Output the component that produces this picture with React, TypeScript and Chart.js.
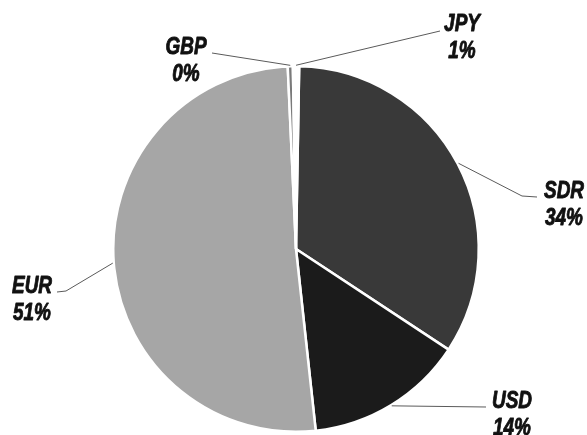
import React, { useEffect, useRef } from "react";
import { Chart, ArcElement, PieController } from "chart.js";

Chart.register(ArcElement, PieController);

const categories = ["SDR", "USD", "EUR", "GBP", "JPY"];
const shares = [34, 14, 51, 0.45, 0.55];
const sliceColors = ["#393939", "#1b1b1b", "#a6a6a6", "#7a7a7a", "#ffffff"];

// label placement (text centre x, first baseline y, leader end, optional elbow)
const labelLayout = [
  { x: 564, y: 198, end: [537, 197], elbow: [522, 196] },
  { x: 512, y: 408, end: [486, 407], elbow: null },
  { x: 32, y: 293, end: [57, 292], elbow: [66, 291] },
  { x: 186, y: 54, end: [212, 53], elbow: null },
  { x: 462, y: 31, end: [440, 31], elbow: null },
];

const labelFont = "italic bold 24px 'Liberation Sans', Arial, sans-serif";
const narrow = 0.79;

const labelPlugin = {
  id: "pieLabels",
  afterDraw(chart: any) {
    const ctx = chart.ctx;
    const meta = chart.getDatasetMeta(0);
    ctx.save();
    meta.data.forEach((arc: any, i: number) => {
      const p = arc.getProps(["x", "y", "startAngle", "endAngle", "outerRadius"], true);
      const mid = (p.startAngle + p.endAngle) / 2;
      const rx = p.x + Math.cos(mid) * (p.outerRadius + 1);
      const ry = p.y + Math.sin(mid) * (p.outerRadius + 1);
      const lay = labelLayout[i];
      ctx.strokeStyle = "#5a5a5a";
      ctx.lineWidth = 1;
      ctx.beginPath();
      ctx.moveTo(rx, ry);
      if (lay.elbow) ctx.lineTo(lay.elbow[0], lay.elbow[1]);
      ctx.lineTo(lay.end[0], lay.end[1]);
      ctx.stroke();
      ctx.save();
      ctx.translate(lay.x, lay.y);
      ctx.scale(narrow, 1);
      ctx.fillStyle = "#111111";
      ctx.strokeStyle = "#111111";
      ctx.lineWidth = 0.9;
      ctx.lineJoin = "round";
      ctx.font = labelFont;
      ctx.textAlign = "center";
      ctx.textBaseline = "alphabetic";
      const pct = Math.round(shares[i]) + "%";
      ctx.fillText(categories[i], 0, 0);
      ctx.strokeText(categories[i], 0, 0);
      ctx.fillText(pct, 0, 27);
      ctx.strokeText(pct, 0, 27);
      ctx.restore();
    });
    ctx.restore();
  },
};

export default function App() {
  const ref = useRef<HTMLCanvasElement | null>(null);
  useEffect(() => {
    document.body.style.margin = "0";
    const canvas = ref.current;
    if (!canvas) return;
    const chart = new Chart(canvas, {
      type: "pie",
      data: {
        labels: categories,
        datasets: [
          {
            data: shares,
            backgroundColor: sliceColors,
            borderColor: "#ffffff",
            borderWidth: 2.5,
          },
        ],
      },
      options: {
        responsive: false,
        animation: false,
        rotation: 1,
        layout: { padding: { top: 65, bottom: 2, left: 5, right: 0 } },
        plugins: { legend: { display: false }, tooltip: { enabled: false } },
      },
      plugins: [labelPlugin],
    });
    return () => chart.destroy();
  }, []);
  return (
    <div style={{ width: 587, height: 435, background: "#fff" }}>
      <canvas ref={ref} width={587} height={435} style={{ display: "block" }} />
    </div>
  );
}
